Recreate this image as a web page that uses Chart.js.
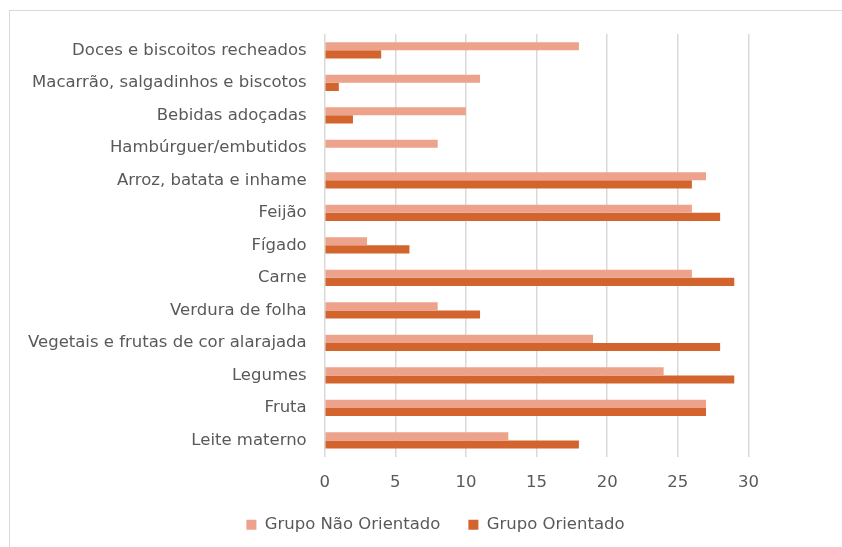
<!DOCTYPE html>
<html>
<head>
<meta charset="utf-8">
<script src="https://cdn.jsdelivr.net/npm/chart.js@4"></script>
<style>
  html, body { margin: 0; padding: 0; background: #fff; overflow: hidden; }
  #frame {
    position: absolute; left: 9px; top: 10px;
    width: 850px; height: 560px;
    border: 1px solid #d9d9d9; box-sizing: border-box;
  }
  #wrap { position: absolute; left: 10px; top: 11px; width: 850px; height: 536px; }
</style>
</head>
<body>
<div id="frame"></div>
<div id="wrap"><canvas id="chart"></canvas></div>
<script>
const categories = [
  "Doces e biscoitos recheados",
  "Macarrão, salgadinhos e biscotos",
  "Bebidas adoçadas",
  "Hambúrguer/embutidos",
  "Arroz, batata e inhame",
  "Feijão",
  "Fígado",
  "Carne",
  "Verdura de folha",
  "Vegetais e frutas de cor alarajada",
  "Legumes",
  "Fruta",
  "Leite materno",
];
const naoOrientado = [18, 11, 10, 8, 27, 26, 3, 26, 8, 19, 24, 27, 13];
const orientado = [4, 1, 2, 0, 26, 28, 6, 29, 11, 28, 29, 27, 18];

const font = "'DejaVu Sans', sans-serif";
const size = 16.5;

// the legend in the original is centred on the whole (cropped) chart, not on the plot
const legendShift = {
  id: "legendShift",
  afterLayout(chart) {
    chart.legend.left += 21;
    chart.legend.right += 21;
  },
};

new Chart("chart", {
  type: "bar",
  plugins: [legendShift],
  data: {
    labels: categories,
    datasets: [
      {
        label: "Grupo Não Orientado",
        data: naoOrientado,
        backgroundColor: "#eda28b",
        categoryPercentage: 0.5,
        barPercentage: 1,
      },
      {
        label: "Grupo Orientado",
        data: orientado,
        backgroundColor: "#d3642d",
        categoryPercentage: 0.5,
        barPercentage: 1,
      },
    ],
  },
  options: {
    indexAxis: "y",
    responsive: true,
    maintainAspectRatio: false,
    animation: false,
    layout: { padding: { left: 0, right: 41, top: 23, bottom: 4 } },
    plugins: {
      tooltip: { enabled: false },
      legend: {
        position: "bottom",
        labels: {
          font: { family: font, size: size },
          color: "#595959",
          boxWidth: 10,
          boxHeight: 10,
          padding: 28,
        },
      },
    },
    scales: {
      x: {
        min: 0,
        max: 35,
        afterFit: (s) => { s.height -= 20; },
        ticks: {
          stepSize: 5,
          font: { family: font, size: size },
          color: "#595959",
          padding: 16,
          callback: (v) => (v > 30 ? "" : v),
        },
        grid: {
          color: (ctx) => (ctx.tick && ctx.tick.value > 30 ? "rgba(0,0,0,0)" : "#d9d9d9"),
          lineWidth: 1.5,
          drawTicks: false,
        },
        border: { display: false },
      },
      y: {
        afterFit: (s) => { s.paddingTop = 0; s.paddingBottom = 0; },
        ticks: {
          font: { family: font, size: size },
          color: "#595959",
          padding: 18,
        },
        grid: { display: false, drawTicks: false },
        border: { display: false },
      },
    },
  },
});
</script>
</body>
</html>
